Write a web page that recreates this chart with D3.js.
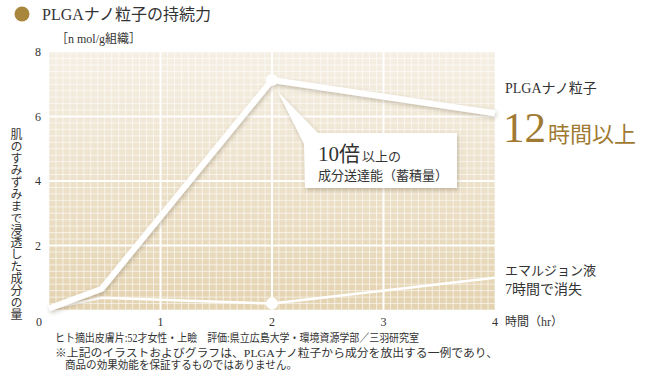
<!DOCTYPE html>
<html><head><meta charset="utf-8">
<script src="https://cdn.jsdelivr.net/npm/d3@7"></script>
<style>
html,body{margin:0;padding:0;background:#fff;}
svg{display:block;font-family:"Liberation Serif","Noto Sans CJK JP",serif;}
</style></head>
<body><svg id="c" width="660" height="390"></svg>
<script>
// ---- data ----
const times = [0, 0.47, 2, 4];
const plgaValues = [0.05, 0.65, 7.13, 6.1];
const emulsionValues = [0.03, 0.38, 0.2, 1.0];
const xTicks = [0, 1, 2, 3, 4];
const yTicks = [0, 2, 4, 6, 8];
const xTickLabels = ["0", "1", "2", "3", "4"];
const yTickLabels = ["0", "2", "4", "6", "8"];
const title = "PLGAナノ粒子の持続力";
const unitLabel = "［n mol/g組織］";
const yTitle = "肌のすみずみまで浸透した成分の量";
const xTitle = "時間（hr）";
const calloutBig = "10倍";
const calloutSmall = "以上の";
const calloutLine2 = "成分送達能（蓄積量）";
const plgaName = "PLGAナノ粒子";
const plgaBig = "12";
const plgaRest = "時間以上";
const emuName = "エマルジョン液";
const emuNote = "7時間で消失";
const foot1 = "ヒト摘出皮膚片:52才女性・上瞼　評価:県立広島大学・環境資源学部／三羽研究室";
const foot2 = "※上記のイラストおよびグラフは、PLGAナノ粒子から成分を放出する一例であり、";
const foot3 = "商品の効果効能を保証するものではありません。";

const svg = d3.select("#c");
const L = 49, R = 495, T = 52, B = 310;
const x = d3.scaleLinear().domain([0, 4]).range([L, R]);
const y = d3.scaleLinear().domain([0, 8]).range([B, T]);

const defs = svg.append("defs");
const g1 = defs.append("linearGradient").attr("id", "bg").attr("x1", 0).attr("y1", 0).attr("x2", 0).attr("y2", 1);
g1.append("stop").attr("offset", "0%").attr("stop-color", "#f5efe4");
g1.append("stop").attr("offset", "100%").attr("stop-color", "#e4d3b0");
const f = defs.append("filter").attr("id", "sh").attr("x", "-20%").attr("y", "-20%").attr("width", "140%").attr("height", "140%");
f.append("feDropShadow").attr("dx", 1).attr("dy", 2).attr("stdDeviation", 2).attr("flood-color", "#6b5a3a").attr("flood-opacity", 0.35);

// title
svg.append("circle").attr("cx", 22).attr("cy", 14).attr("r", 7.5).attr("fill", "#a8873d");
svg.append("text").attr("x", 42).attr("y", 20).attr("font-size", 16).attr("fill", "#333").text(title);

// plot background
svg.append("rect").attr("x", L).attr("y", T).attr("width", R - L).attr("height", B - T).attr("fill", "url(#bg)");

// fine grid
const fineX = d3.range(0, 4.0001, 1 / 16);
const fineY = d3.range(0, 8.0001, 0.2);
const grid = svg.append("g");
grid.selectAll(".fx").data(fineX).join("line")
  .attr("x1", d => x(d)).attr("x2", d => x(d)).attr("y1", T).attr("y2", B)
  .attr("stroke", "#fff").attr("stroke-opacity", 0.6).attr("stroke-width", 1);
grid.selectAll(".fy").data(fineY).join("line")
  .attr("y1", d => y(d)).attr("y2", d => y(d)).attr("x1", L).attr("x2", R)
  .attr("stroke", "#fff").attr("stroke-opacity", 0.6).attr("stroke-width", 1);
// major grid
grid.selectAll(".mx").data(xTicks.slice(1, -1)).join("line")
  .attr("x1", d => x(d)).attr("x2", d => x(d)).attr("y1", T).attr("y2", B)
  .attr("stroke", "#fff").attr("stroke-width", 2);
grid.selectAll(".my").data(yTicks.slice(1, -1)).join("line")
  .attr("y1", d => y(d)).attr("y2", d => y(d)).attr("x1", L).attr("x2", R)
  .attr("stroke", "#fff").attr("stroke-width", 2);

// tick labels
svg.append("g").selectAll("text").data(xTicks).join("text")
  .attr("x", (d, i) => x(d) + (i === 0 ? -10 : 0)).attr("y", 326)
  .attr("text-anchor", "middle").attr("font-size", 12).attr("fill", "#333")
  .text((d, i) => xTickLabels[i]);
svg.append("g").selectAll("text").data(yTicks.slice(1)).join("text")
  .attr("x", 38).attr("y", d => y(d) + 4)
  .attr("text-anchor", "middle").attr("font-size", 12).attr("fill", "#333")
  .text((d, i) => yTickLabels[i + 1]);

svg.append("text").attr("x", 56).attr("y", 43).attr("font-size", 12).attr("fill", "#333").text(unitLabel);
svg.append("text").attr("x", 505).attr("y", 326).attr("font-size", 12).attr("fill", "#333").text(xTitle);
svg.append("text").attr("transform", "translate(15,128)").attr("font-size", 12).attr("fill", "#333")
  .style("writing-mode", "vertical-rl").text(yTitle);

// lines
const line = d3.line().x((d, i) => x(times[i])).y(d => y(d));
svg.append("path").attr("d", line(emulsionValues)).attr("fill", "none").attr("stroke", "#fff")
  .attr("stroke-width", 2.5).attr("stroke-linejoin", "round");
svg.append("circle").attr("cx", x(times[2])).attr("cy", y(emulsionValues[2])).attr("r", 6).attr("fill", "#fff");

svg.append("path").attr("d", line(plgaValues)).attr("fill", "none").attr("stroke", "#fff")
  .attr("stroke-width", 6).attr("stroke-linejoin", "round").attr("filter", "url(#sh)");
svg.append("circle").attr("cx", x(times[2])).attr("cy", y(plgaValues[2])).attr("r", 6).attr("fill", "#fff");

// callout
const px = x(times[2]) + 6, py = y(plgaValues[2]) + 12;
const cg = svg.append("g").attr("filter", "url(#sh)");
cg.append("path").attr("fill", "#fff")
  .attr("d", `M${px},${py} L${px + 26},${py + 52} L305,188 L457,188 L457,133 L${px + 40},133 Z`);
svg.append("text").attr("x", 318).attr("y", 161).attr("fill", "#333")
  .call(t => {
    t.append("tspan").attr("font-size", 21).text(calloutBig);
    t.append("tspan").attr("font-size", 13).attr("dx", 2).text(calloutSmall);
  });
svg.append("text").attr("x", 318).attr("y", 180).attr("font-size", 13).attr("fill", "#333").text(calloutLine2);

// right labels
svg.append("text").attr("x", 505).attr("y", 93).attr("font-size", 14).attr("fill", "#333").text(plgaName);
svg.append("text").attr("x", 503).attr("y", 142).attr("fill", "#a07a32")
  .call(t => {
    t.append("tspan").attr("font-size", 43).text(plgaBig);
    t.append("tspan").attr("font-size", 22).attr("dx", 2).text(plgaRest);
  });
svg.append("text").attr("x", 505).attr("y", 275).attr("font-size", 13).attr("fill", "#333").text(emuName);
svg.append("text").attr("x", 505).attr("y", 294).attr("font-size", 14).attr("fill", "#333").text(emuNote);

// footnotes
svg.append("text").attr("x", 55).attr("y", 342).attr("font-size", 11.5).attr("fill", "#333")
  .attr("textLength", 364).attr("lengthAdjust", "spacingAndGlyphs").text(foot1);
svg.append("text").attr("x", 55).attr("y", 357).attr("font-size", 11).attr("fill", "#333")
  .attr("textLength", 443).attr("lengthAdjust", "spacingAndGlyphs").text(foot2);
svg.append("text").attr("x", 65).attr("y", 369).attr("font-size", 11).attr("fill", "#333")
  .attr("textLength", 232).attr("lengthAdjust", "spacingAndGlyphs").text(foot3);
</script></body></html>
